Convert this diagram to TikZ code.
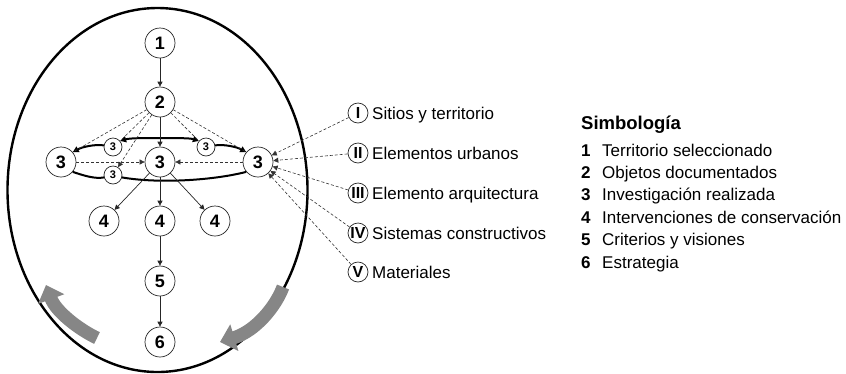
\documentclass[tikz,border=0pt]{standalone}
\usepackage{fontspec}
\setmainfont{Liberation Sans}
\usetikzlibrary{arrows.meta}
\begin{document}
\begin{tikzpicture}[x=1pt,y=-1pt,
  circ/.style={circle, draw=black!85, line width=0.7pt, fill=white, minimum size=30pt, inner sep=0pt, font=\fontsize{18}{18}\selectfont\bfseries},
  smallc/.style={circle, draw=black!85, line width=0.7pt, fill=white, minimum size=18pt, inner sep=0pt, font=\fontsize{11}{11}\selectfont\bfseries},
  roman/.style={circle, draw=black!85, line width=0.7pt, fill=white, minimum size=20pt, inner sep=0pt, font=\fontsize{16}{16}\selectfont\bfseries},
  lbl/.style={anchor=base west, inner sep=0pt, font=\fontsize{17}{17}\selectfont},
  lgnum/.style={anchor=base west, inner sep=0pt, font=\fontsize{17}{17}\selectfont\bfseries},
  arr/.style={-{Triangle[length=5pt,width=5pt]}, line width=0.7pt, draw=black!85},
  dsh/.style={dash pattern=on 3pt off 2pt, line width=0.6pt, draw=black!80},
  dsharr/.style={dsh, -{Triangle[length=5pt,width=5pt]}},
  thk/.style={line width=2pt},
  thkarr/.style={thk, -{Triangle[length=6pt,width=6pt]}},
  garrow/.style={draw=gray!95, line width=13pt, -{Triangle[length=15pt,width=27pt]}}
]
\useasboundingbox (0,0) rectangle (846,373);
% outer ellipse
\draw[line width=2.4pt] (157.5,190) ellipse [x radius=150, y radius=182];

% gray arrows
\draw[garrow] (97,338) .. controls (80,330) and (56,312) .. (46,285);
\draw[garrow] (283,287) .. controls (276,306) and (256,331) .. (220,342);

% main nodes
\node[circ] (n1) at (160,43) {1};
\node[circ] (n2) at (160,102) {2};
\node[circ] (c3) at (160,162) {3};
\node[circ] (l3) at (61,162) {3};
\node[circ] (r3) at (258,162) {3};
\node[smallc] (s3l) at (113,147) {3};
\node[smallc] (s3r) at (206,147) {3};
\node[smallc] (s3b) at (113,175) {3};
\node[circ] (l4) at (104,221) {4};
\node[circ] (c4) at (160,221) {4};
\node[circ] (r4) at (215,221) {4};
\node[circ] (n5) at (160,281) {5};
\node[circ] (n6) at (160,342) {6};
\coordinate (ctop) at (160,138);

% roman nodes
\node[roman] (rI) at (358,113) {I};
\node[roman] (rII) at (358,153) {II};
\node[roman] (rIII) at (358,193) {III};
\node[roman] (rIV) at (358,233) {IV};
\node[roman] (rV) at (358,272) {V};
\node[lbl] (tI) at (372,119.3) {Sitios y territorio};
\node[lbl] (tII) at (372,159.3) {Elementos urbanos};
\node[lbl] (tIII) at (372,199.3) {Elemento arquitectura};
\node[lbl] (tIV) at (372,239.3) {Sistemas constructivos};
\node[lbl] (tV) at (372,278.3) {Materiales};

% thick arcs
\draw[thkarr] (ctop) .. controls (145,138) and (130,138) .. (s3l.40);
\draw[thkarr] (s3l.170) .. controls (95,144) and (82,147) .. (l3.40);
\draw[thkarr] (ctop) .. controls (175,138) and (190,138) .. (s3r.140);
\draw[thkarr] (s3r.10) .. controls (224,144) and (237,147) .. (r3.140);
\draw[thk] (l3.-40) .. controls (85,176) and (95,179) .. (s3b.195);
\draw[thk] (s3b.-15) .. controls (160,184) and (215,180) .. (r3.-140);

% solid arrows
\draw[arr] (n1) -- (n2);
\draw[arr] (n2) -- (c3);
\draw[arr] (c3) -- (l4);
\draw[arr] (c3) -- (c4);
\draw[arr] (c3) -- (r4);
\draw[arr] (c4) -- (n5);
\draw[arr] (n5) -- (n6);

% dashed from 2
\draw[dsh] (n2) -- (l3.40);
\draw[dsh] (n2) -- (s3l.40);
\draw[dsharr] (n2) -- (s3b);
\draw[dsh] (n2) -- (s3r.140);
\draw[dsh] (n2) -- (r3.140);
\draw[dsharr] (l3) -- (c3);
\draw[dsharr] (r3) -- (c3);

% dashed from roman nodes
\draw[dsharr] (rI) -- (r3);
\draw[dsharr] (rII) -- (r3);
\draw[dsharr] (rIII) -- (r3);
\draw[dsharr] (rIV) -- (r3);
\draw[dsharr] (rV) -- (r3);

% legend
\node[anchor=base west, inner sep=0pt, font=\fontsize{18.5}{18.5}\selectfont\bfseries] (lgt) at (581,129.3) {Simbología};
\node[lgnum] (g1) at (581,156) {1};
\node[lbl] (h1) at (602,156) {Territorio seleccionado};
\node[lgnum] (g2) at (581,178.4) {2};
\node[lbl] (h2) at (602,178.4) {Objetos documentados};
\node[lgnum] (g3) at (581,200.8) {3};
\node[lbl] (h3) at (602,200.8) {Investigación realizada};
\node[lgnum] (g4) at (581,223.2) {4};
\node[lbl] (h4) at (602,223.2) {Intervenciones de conservación};
\node[lgnum] (g5) at (581,245.6) {5};
\node[lbl] (h5) at (602,245.6) {Criterios y visiones};
\node[lgnum] (g6) at (581,268) {6};
\node[lbl] (h6) at (602,268) {Estrategia};
\end{tikzpicture}
\end{document}
